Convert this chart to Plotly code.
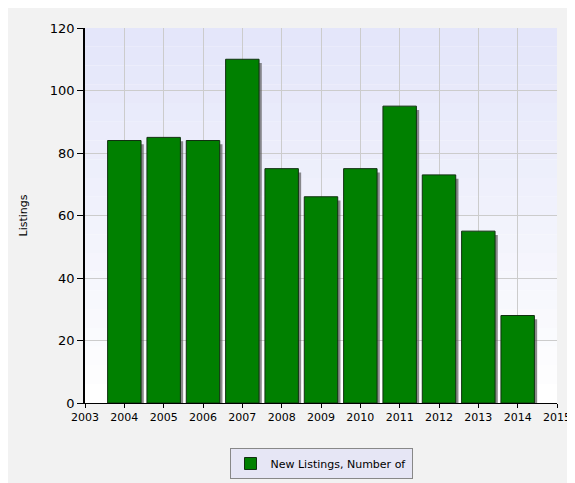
import plotly.graph_objects as go

years = [2004, 2005, 2006, 2007, 2008, 2009, 2010, 2011, 2012, 2013, 2014]
listings = [84, 85, 84, 110, 75, 66, 75, 95, 73, 55, 28]
x_ticks = list(range(2003, 2016))
y_ticks = [0, 20, 40, 60, 80, 100, 120]

fig = go.Figure()
# gradient background bands
n = 20
shapes = []
for i in range(n):
    t = i / (n - 1)
    r = int(255 - (255 - 228) * t)
    g = int(255 - (255 - 230) * t)
    b = int(255 - (255 - 250) * t)
    shapes.append(dict(type="rect", xref="x domain", yref="y domain", x0=0, x1=1,
                       y0=i / n, y1=(i + 1) / n, fillcolor=f"rgb({r},{g},{b})",
                       line_width=0, layer="below"))

# shadow
fig.add_trace(go.Bar(x=[y + 0.07 for y in years], y=listings, width=0.85,
                     marker=dict(color="rgba(90,90,90,0.7)", line_width=0),
                     showlegend=False, hoverinfo="skip", base=[-1.2] * len(years)))
fig.add_trace(go.Bar(x=years, y=listings, width=0.85, name="New Listings, Number of",
                     marker=dict(color="#008000", line=dict(color="#103010", width=1))))

fig.update_layout(
    width=575, height=483, barmode="overlay",
    paper_bgcolor="#f2f2f2", plot_bgcolor="white",
    margin=dict(l=77, r=15, t=20, b=73),
    font=dict(family="DejaVu Sans", size=11, color="black"),
    shapes=shapes,
    showlegend=True,
    legend=dict(orientation="h", x=0.5, xanchor="center", y=-0.12, yanchor="top",
                bgcolor="#e6e6f5", bordercolor="#888", borderwidth=1,
                font=dict(size=11), traceorder="normal"),
    xaxis=dict(range=[2003, 2015], tickvals=x_ticks, showgrid=True, gridcolor="#cccccc",
               showline=True, linecolor="black", ticks="outside", ticklen=4,
               tickcolor="black", zeroline=False),
    yaxis=dict(range=[0, 120], tickvals=y_ticks, showgrid=True, gridcolor="#cccccc",
               showline=True, linecolor="black", linewidth=1.5, ticks="outside", ticklen=6,
               tickcolor="black", zeroline=False, tickfont=dict(size=13),
               title=dict(text="Listings", font=dict(size=11), standoff=20)),
)
fig.write_html("out.html")
